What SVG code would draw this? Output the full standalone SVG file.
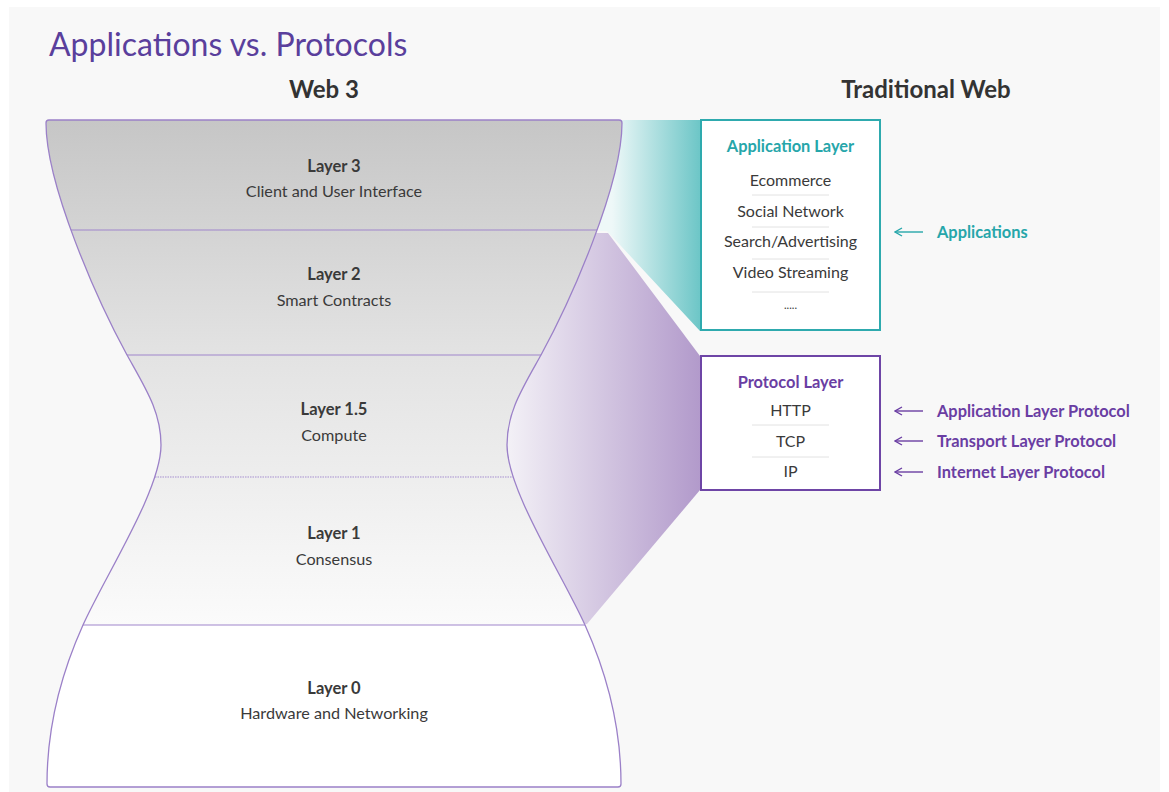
<svg xmlns="http://www.w3.org/2000/svg" width="1169" height="792" viewBox="0 0 1169 792">
<style>
text{font-family:Lato,"Open Sans","Liberation Sans",sans-serif;}
.title{font-size:32px;font-weight:400;fill:#5a3f9c;}
.head{font-size:24px;font-weight:700;fill:#333;text-anchor:middle;}
.lname{font-size:16.5px;font-weight:700;fill:#3a3a3a;text-anchor:middle;}
.ldesc{font-size:16.2px;fill:#3a3a3a;text-anchor:middle;}
.item{font-size:16px;fill:#3a3a3a;text-anchor:middle;}
.sep{stroke:#e2e2e2;stroke-width:1;}
.hl{stroke:#9f85cc;stroke-width:1.2;fill:none;}
.tealt{fill:#26a6aa;font-weight:700;font-size:16.4px;}
.purt{fill:#6a3ea3;font-weight:700;font-size:16.4px;}
.arrT{stroke:#26a6aa;stroke-width:1.4;fill:none;marker-end:url(#mT);}
.arrP{stroke:#6a3ea3;stroke-width:1.4;fill:none;marker-end:url(#mP);}
</style>
<defs>
<linearGradient id="gShape" x1="0" y1="120" x2="0" y2="625" gradientUnits="userSpaceOnUse">
<stop offset="0" stop-color="#c6c6c6"/>
<stop offset="0.45" stop-color="#e2e2e2"/>
<stop offset="1" stop-color="#fbfbfb"/>
</linearGradient>
<linearGradient id="gTeal" x1="612" y1="0" x2="700" y2="0" gradientUnits="userSpaceOnUse">
<stop offset="0" stop-color="#eef8f8"/>
<stop offset="1" stop-color="#6dc6c7"/>
</linearGradient>
<linearGradient id="gPur" x1="505" y1="0" x2="700" y2="0" gradientUnits="userSpaceOnUse">
<stop offset="0" stop-color="#f4f2f7"/>
<stop offset="1" stop-color="#b29acb"/>
</linearGradient>
<clipPath id="clipShape">
<path id="shapeP" d="M46,123 Q46,120 49,120 L619,120 Q622,120 622,123 C622,185 571,300 541,355 C522,389 507,412 507,445 C507,490 562.5,575 585,625 C607.5,675 621,730 621,784 Q621,787 618,787 L50,787 Q47,787 47,784 C47,730 60.5,675 83,625 C105.5,575 161,490 161,445 C161,412 146,389 127,355 C97,300 46,185 46,123 Z"/>
</clipPath>
<marker id="mT" viewBox="0 0 10 10" refX="9" refY="5" markerWidth="10" markerHeight="10" markerUnits="userSpaceOnUse" orient="auto"><path d="M2,1 L9,5 L2,9" fill="none" stroke="#26a6aa" stroke-width="1.4"/></marker>
<marker id="mP" viewBox="0 0 10 10" refX="9" refY="5" markerWidth="10" markerHeight="10" markerUnits="userSpaceOnUse" orient="auto"><path d="M2,1 L9,5 L2,9" fill="none" stroke="#6a3ea3" stroke-width="1.4"/></marker>
</defs>
<rect width="1169" height="792" fill="#ffffff"/>
<rect x="9" y="7" width="1151" height="785" fill="#f8f8f8"/>
<text class="title" x="49" y="56">Applications vs. Protocols</text>
<text class="head" x="324" y="98">Web 3</text>
<text class="head" x="926" y="98">Traditional Web</text>
<g id="connectors">
<path d="M600,120 L700,120 L700,331 L607,231 L600,231 Z" fill="url(#gTeal)"/>
<path d="M500,233 L608,233 L700,356 L700,490 L587,624 L500,624 Z" fill="url(#gPur)"/>
<path class="arrT" d="M923,232 H895"/>
<path class="arrP" d="M923,411 H895"/>
<path class="arrP" d="M923,441 H895"/>
<path class="arrP" d="M923,472 H895"/>
</g>
<g id="web3-stack">
<g clip-path="url(#clipShape)">
<rect x="40" y="115" width="590" height="510" fill="url(#gShape)"/>
<rect x="40" y="625" width="590" height="170" fill="#ffffff"/>
<line class="hl" x1="40" y1="230" x2="630" y2="230"/>
<line class="hl" x1="40" y1="355" x2="630" y2="355"/>
<line x1="40" y1="477" x2="630" y2="477" stroke="#a58ed0" stroke-width="1.2" stroke-dasharray="1.5,1"/>
<line class="hl" x1="40" y1="625" x2="630" y2="625"/>
</g>
<use href="#shapeP" fill="none" stroke="#9b80c8" stroke-width="1.3"/>
</g>
<g id="layer3"><text class="lname" x="334" y="172">Layer 3</text><text class="ldesc" x="334" y="197">Client and User Interface</text></g>
<g id="layer2"><text class="lname" x="334" y="280">Layer 2</text><text class="ldesc" x="334" y="306">Smart Contracts</text></g>
<g id="layer15"><text class="lname" x="334" y="415">Layer 1.5</text><text class="ldesc" x="334" y="441">Compute</text></g>
<g id="layer1"><text class="lname" x="334" y="539">Layer 1</text><text class="ldesc" x="334" y="565">Consensus</text></g>
<g id="layer0"><text class="lname" x="334" y="694">Layer 0</text><text class="ldesc" x="334" y="719">Hardware and Networking</text></g>
<g id="application-layer">
<rect x="701" y="120" width="179" height="210" fill="#ffffff" stroke="#2eaaae" stroke-width="2"/>
<text class="tealt" x="790.5" y="152" text-anchor="middle">Application Layer</text>
<text class="item" x="790.5" y="186">Ecommerce</text>
<line class="sep" x1="752" y1="195" x2="829" y2="195"/>
<text class="item" x="790.5" y="217">Social Network</text>
<line class="sep" x1="752" y1="227" x2="829" y2="227"/>
<text class="item" x="790.5" y="247">Search/Advertising</text>
<line class="sep" x1="752" y1="259" x2="829" y2="259"/>
<text class="item" x="790.5" y="278">Video Streaming</text>
<line class="sep" x1="752" y1="292" x2="829" y2="292"/>
<text class="item" x="790.5" y="309" style="font-size:11px">.....</text>
</g>
<g id="protocol-layer">
<rect x="701" y="356" width="179" height="134" fill="#ffffff" stroke="#6e45a6" stroke-width="2"/>
<text class="purt" x="790.5" y="388" text-anchor="middle">Protocol Layer</text>
<text class="item" x="790.5" y="416">HTTP</text>
<line class="sep" x1="752" y1="425" x2="829" y2="425"/>
<text class="item" x="790.5" y="447">TCP</text>
<line class="sep" x1="752" y1="457" x2="829" y2="457"/>
<text class="item" x="790.5" y="477">IP</text>
</g>
<g id="label-applications"><text class="tealt" x="937" y="238">Applications</text></g>
<g id="label-alp"><text class="purt" x="937" y="417">Application Layer Protocol</text></g>
<g id="label-tlp"><text class="purt" x="937" y="447">Transport Layer Protocol</text></g>
<g id="label-ilp"><text class="purt" x="937" y="478">Internet Layer Protocol</text></g>
</svg>
